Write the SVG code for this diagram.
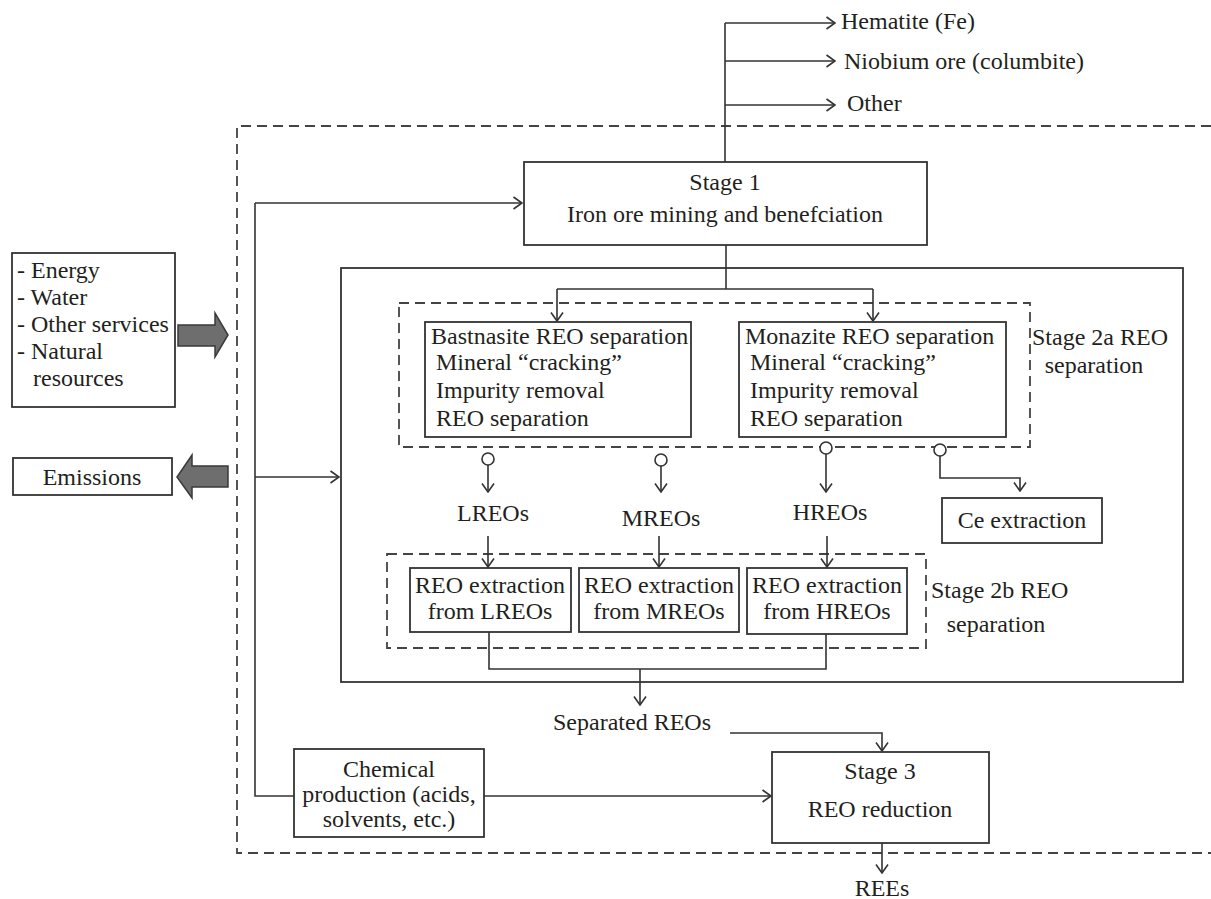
<svg xmlns="http://www.w3.org/2000/svg" width="1211" height="899" viewBox="0 0 1211 899">
<defs>
<style>
text{font-family:"Liberation Serif","Times New Roman",serif;font-size:24px;fill:#231f20}
.c{text-anchor:middle}
.box{fill:#fff;stroke:#333;stroke-width:1.8}
.dash{fill:none;stroke:#444;stroke-width:1.8;stroke-dasharray:10 6}
.ln{fill:none;stroke:#333;stroke-width:1.6}
.ar{fill:none;stroke:#333;stroke-width:1.6;marker-end:url(#ah)}
.circ{fill:#fff;stroke:#333;stroke-width:1.6}
.big{fill:#6e6e6e;stroke:#3a3a3a;stroke-width:1.5}
</style>
<marker id="ah" viewBox="0 0 10 14" refX="9.5" refY="7" markerWidth="10" markerHeight="14" markerUnits="userSpaceOnUse" orient="auto">
<path d="M1,1 L9.5,7 L1,13" fill="none" stroke="#333" stroke-width="1.6"/>
</marker>
</defs>
<rect width="1211" height="899" fill="#fff"/>

<g id="boundary">
<path class="dash" d="M1211,126 H237 V853 H1211"/>
</g>

<g id="big-box">
<rect class="box" x="341" y="268" width="842" height="414" fill="none"/>
</g>

<g id="stage2a-group">
<rect class="dash" x="399" y="303" width="631" height="144"/>
<text x="1032" y="345">Stage 2a REO</text>
<text class="c" x="1094" y="373">separation</text>
</g>

<g id="stage2b-group">
<rect class="dash" x="387" y="554" width="539" height="94"/>
<text x="931" y="598">Stage 2b REO</text>
<text class="c" x="996" y="632">separation</text>
</g>

<g id="connectors">
<!-- stage1 outputs -->
<path class="ln" d="M725,162 V23"/>
<path class="ar" d="M725,23 H835"/>
<path class="ar" d="M725,61 H835"/>
<path class="ar" d="M725,105 H835"/>
<!-- feedback line -->
<path class="ln" d="M294,796 H255 V203"/>
<path class="ar" d="M255,203 H522"/>
<path class="ar" d="M255,477 H339"/>
<!-- stage1 to 2a -->
<path class="ln" d="M726,245 V289"/>
<path class="ln" d="M557,289 H873"/>
<path class="ar" d="M557,289 V321"/>
<path class="ar" d="M873,289 V321"/>
<!-- outputs of 2a -->
<path class="ar" d="M488,465 V492"/>
<path class="ar" d="M661,466 V492"/>
<path class="ar" d="M826,454 V492"/>
<path class="ar" d="M940,456 V478 H1020 V491"/>
<circle class="circ" cx="488" cy="459" r="6"/>
<circle class="circ" cx="661" cy="460" r="6"/>
<circle class="circ" cx="826" cy="448" r="6"/>
<circle class="circ" cx="940" cy="450" r="6"/>
<!-- to 2b -->
<path class="ar" d="M488,536 V567"/>
<path class="ar" d="M659,536 V567"/>
<path class="ar" d="M827,536 V567"/>
<!-- merge -->
<path class="ln" d="M489,632 V669 H826 V634"/>
<path class="ar" d="M640,669 V705"/>
<!-- to stage 3 -->
<path class="ar" d="M730,733 H882 V751"/>
<path class="ar" d="M484,796 H771"/>
<path class="ar" d="M882,843 V873"/>
</g>

<g id="stage1">
<rect class="box" x="524" y="162" width="403" height="83"/>
<text class="c" x="725" y="190">Stage 1</text>
<text class="c" x="725" y="222">Iron ore mining and benefciation</text>
</g>

<g id="hematite"><text x="841" y="29">Hematite (Fe)</text></g>
<g id="niobium"><text x="844" y="69">Niobium ore (columbite)</text></g>
<g id="other"><text x="847" y="111">Other</text></g>

<g id="resources">
<rect class="box" x="12" y="253" width="163" height="154"/>
<text x="17" y="278">- Energy</text>
<text x="17" y="305">- Water</text>
<text x="17" y="332">- Other services</text>
<text x="17" y="359">- Natural</text>
<text x="33" y="386">resources</text>
<polygon class="big" points="178,325 215,325 215,313 228,335 215,357 215,346 178,346"/>
</g>

<g id="emissions">
<rect class="box" x="13" y="458" width="159" height="37"/>
<text class="c" x="92" y="485">Emissions</text>
<polygon class="big" points="228,466 192,466 192,455 177,477 192,498 192,487 228,487"/>
</g>

<g id="bastnasite">
<rect class="box" x="425" y="322" width="266" height="115"/>
<text x="431" y="344">Bastnasite REO separation</text>
<text x="436" y="370">Mineral “cracking”</text>
<text x="436" y="398">Impurity removal</text>
<text x="436" y="426">REO separation</text>
</g>

<g id="monazite">
<rect class="box" x="739" y="322" width="267" height="115"/>
<text x="745" y="344">Monazite REO separation</text>
<text x="750" y="370">Mineral “cracking”</text>
<text x="750" y="398">Impurity removal</text>
<text x="750" y="426">REO separation</text>
</g>

<g id="lreos"><text class="c" x="493" y="521">LREOs</text></g>
<g id="mreos"><text class="c" x="661" y="526">MREOs</text></g>
<g id="hreos"><text class="c" x="830" y="520">HREOs</text></g>

<g id="ce-extraction">
<rect class="box" x="942" y="498" width="160" height="45"/>
<text class="c" x="1022" y="528">Ce extraction</text>
</g>

<g id="extract-l">
<rect class="box" x="410" y="568" width="161" height="64"/>
<text class="c" x="490" y="593">REO extraction</text>
<text class="c" x="490" y="619">from LREOs</text>
</g>
<g id="extract-m">
<rect class="box" x="579" y="568" width="160" height="64"/>
<text class="c" x="659" y="593">REO extraction</text>
<text class="c" x="659" y="619">from MREOs</text>
</g>
<g id="extract-h">
<rect class="box" x="747" y="568" width="160" height="66"/>
<text class="c" x="827" y="593">REO extraction</text>
<text class="c" x="827" y="619">from HREOs</text>
</g>

<g id="separated"><text class="c" x="632" y="730">Separated REOs</text></g>

<g id="chemical">
<rect class="box" x="294" y="749" width="190" height="88"/>
<text class="c" x="389" y="777">Chemical</text>
<text class="c" x="389" y="802">production (acids,</text>
<text class="c" x="389" y="827">solvents, etc.)</text>
</g>

<g id="stage3">
<rect class="box" x="772" y="752" width="217" height="91"/>
<text class="c" x="880" y="779">Stage 3</text>
<text class="c" x="880" y="817">REO reduction</text>
</g>

<g id="rees"><text class="c" x="882" y="896">REEs</text></g>
</svg>
